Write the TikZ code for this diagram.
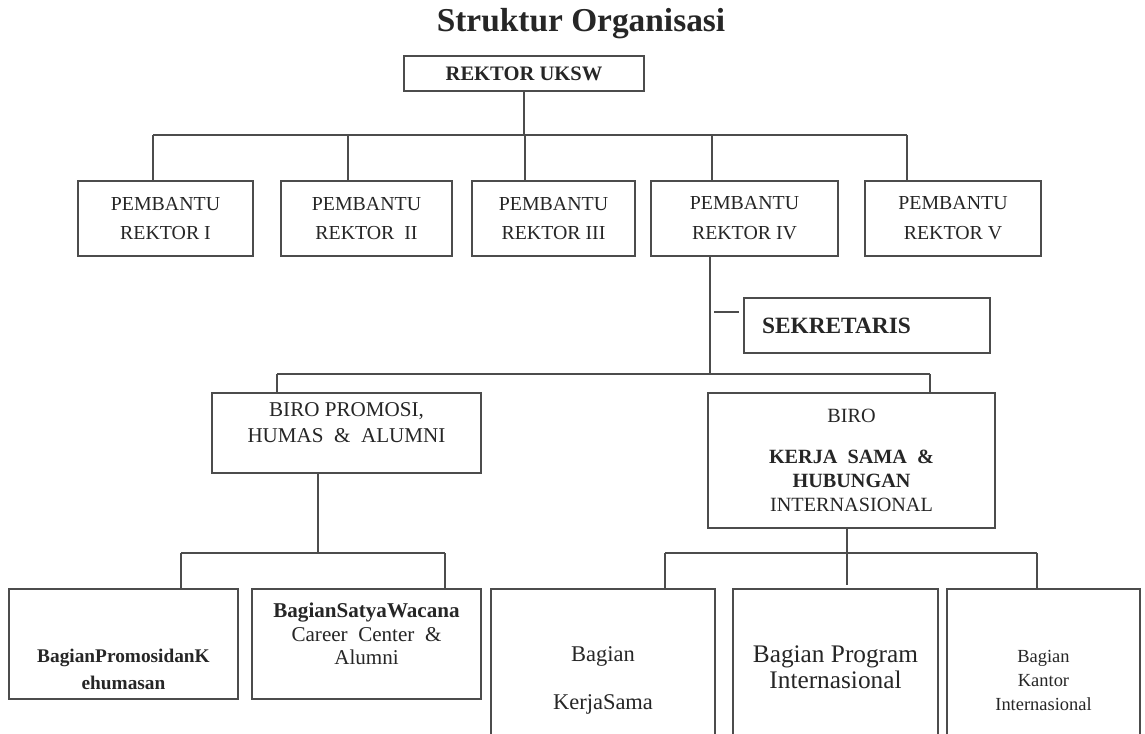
\documentclass[tikz,border=0pt]{standalone}
\usepackage{fontspec}
\setmainfont{Liberation Serif}
\usetikzlibrary{positioning}

\begin{document}
\begin{tikzpicture}[
	x=0.02cm, y=-0.02cm,
	line/.style={draw=black!70, line width=1.1pt},
	orgbox/.style={rectangle, draw=black!70, line width=1.1pt, fill=white, align=center, inner sep=0pt, text=black!85},
	dim/.style 2 args={minimum width={#1*0.02cm}, minimum height={#2*0.02cm}},
	pr/.style={orgbox, dim={#1}{75}, font={\fontsize{11.3}{17}\selectfont}},
	bag/.style={orgbox, dim={#1}{183}}
	]
	\useasboundingbox (0,0) rectangle (1145,733);
	\clip (0,0) rectangle (1145,733);

	\node[font={\bfseries\fontsize{19}{23}\selectfont}, text=black!85] (title) at (581,24) {Struktur Organisasi};

	\node[orgbox, dim={240}{35}, font={\bfseries\fontsize{11.7}{14}\selectfont}] (rektor) at (524,73.5) {REKTOR UKSW};

	\node[pr=175] (pr1) at (165.5,218.5) {PEMBANTU\\REKTOR I};
	\node[pr=171] (pr2) at (366.5,218.5) {PEMBANTU\\REKTOR \ II};
	\node[pr=163] (pr3) at (553.5,218.5) {PEMBANTU\\REKTOR III};
	\node[pr=187] (pr4) at (744.5,218.5) {PEMBANTU\\REKTOR IV};
	\node[pr=176] (pr5) at (953,218.5) {PEMBANTU\\REKTOR V};

	\node[orgbox, dim={246}{55}, align=left, text width={210*0.02cm}, font={\bfseries\fontsize{13.3}{16}\selectfont}] (sekr) at (867,325.5) {SEKRETARIS};

	\node[orgbox, dim={269}{80}, font={\fontsize{12}{14.7}\selectfont}] (biroA) at (346.5,433) {BIRO PROMOSI,\\HUMAS \ \& \ ALUMNI\\[-7pt]\strut};
	\node[orgbox, dim={287}{135}, font={\fontsize{11.5}{13.6}\selectfont}] (biroB) at (851.5,460.5) {BIRO\\[10pt]\textbf{KERJA \ SAMA \ \&}\\\textbf{HUBUNGAN}\\INTERNASIONAL};

	\node[orgbox, dim={229}{110}, font={\bfseries\fontsize{11}{15.3}\selectfont}] (bagA) at (123.5,644) {\strut\\[11pt]BagianPromosidanK\\ehumasan};
	\node[orgbox, dim={229}{110}, font={\fontsize{12}{13.6}\selectfont}] (bagB) at (366.5,644) {\textbf{BagianSatyaWacana}\\Career \ Center \ \&\\Alumni\\[-6pt]\strut};
	\node[bag=224, font={\fontsize{12.8}{13.6}\selectfont}] (bagC) at (603,680.5) {Bagian\\\strut\\KerjaSama};
	\node[bag=205, font={\fontsize{14.4}{14.7}\selectfont}] (bagD) at (835.5,680.5) {Bagian Program\\Internasional\\[1pt]\mbox{}};
	\node[bag=193, font={\fontsize{10.5}{13.5}\selectfont}] (bagE) at (1043.5,680.5) {Bagian\\Kantor\\Internasional};

	\coordinate (top1) at (524,135);
	\coordinate (d1) at (153,135);
	\coordinate (d2) at (348,135);
	\coordinate (d3) at (525,135);
	\coordinate (d4) at (712,135);
	\coordinate (d5) at (907,135);
	\draw[line] (rektor.south) -- (top1);
	\draw[line] (d1) -- (d5);
	\foreach \i in {1,...,5}
		\draw[line] (d\i) -- (d\i |- pr\i.north);

	\coordinate (bus2) at (710,374);
	\coordinate (s1) at (714,312);
	\coordinate (s2) at (739,312);
	\draw[line] (pr4.south -| bus2) -- (bus2);
	\draw[line] (s1) -- (s2);

	\coordinate (e1) at (277,374);
	\coordinate (e2) at (930,374);
	\draw[line] (e1) -- (e2);
	\draw[line] (e1) -- (e1 |- biroA.north);
	\draw[line] (e2) -- (e2 |- biroB.north);

	\coordinate (f0) at (318,553);
	\coordinate (f1) at (181,553);
	\coordinate (f2) at (445,553);
	\draw[line] (f0 |- biroA.south) -- (f0);
	\draw[line] (f1) -- (f2);
	\draw[line] (f1) -- (f1 |- bagA.north);
	\draw[line] (f2) -- (f2 |- bagB.north);

	\coordinate (g0) at (847,553);
	\coordinate (g1) at (665,553);
	\coordinate (g2) at (1037,553);
	\coordinate (g3) at (847,585);
	\draw[line] (g0 |- biroB.south) -- (g0);
	\draw[line] (g1) -- (g2);
	\draw[line] (g1) -- (g1 |- bagC.north);
	\draw[line] (g0) -- (g3);
	\draw[line] (g2) -- (g2 |- bagE.north);
\end{tikzpicture}
\end{document}
